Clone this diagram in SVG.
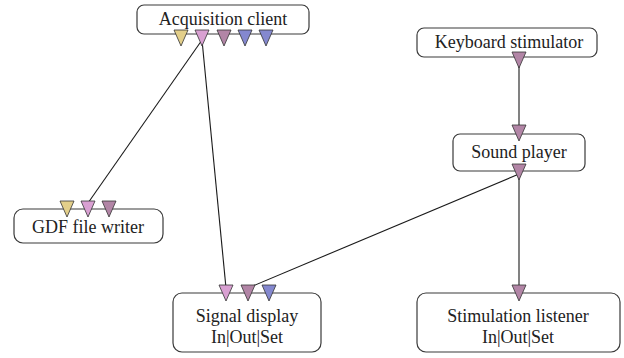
<svg xmlns="http://www.w3.org/2000/svg" width="624" height="358" viewBox="0 0 624 358">
<style>
.box{fill:#fff;stroke:#3a3a3a;stroke-width:1.2}
.lbl{font-family:'Liberation Serif','Times New Roman',serif;font-size:18px;fill:#222;text-anchor:middle}
.tri{stroke:#333;stroke-width:0.8}
.y{fill:#e3cf8a}.p{fill:#d9a0d2}.m{fill:#b285a6}.b{fill:#8488cf}
.con{stroke:#1a1a1a;stroke-width:1.1;fill:none}
</style>
<defs>
<polygon id="t" points="-7,0 7,0 0,16"/>
</defs>
<rect width="624" height="358" fill="#fff"/>
<g id="connectors">
<line class="con" x1="202" y1="40" x2="88" y2="203"/>
<line class="con" x1="202" y1="40" x2="226" y2="288"/>
<line class="con" x1="519" y1="62" x2="519" y2="128"/>
<line class="con" x1="519" y1="174" x2="248" y2="288"/>
<line class="con" x1="519" y1="174" x2="519" y2="288"/>
</g>
<g id="acquisition-client">
<rect class="box" x="137" y="5" width="172" height="29" rx="7"/>
<text class="lbl" x="223" y="25">Acquisition client</text>
<use href="#t" class="tri y" x="181" y="30"/>
<use href="#t" class="tri p" x="202" y="30"/>
<use href="#t" class="tri m" x="224" y="30"/>
<use href="#t" class="tri b" x="245" y="30"/>
<use href="#t" class="tri b" x="266" y="30"/>
</g>
<g id="keyboard-stimulator">
<rect class="box" x="417" y="28" width="180" height="29" rx="7"/>
<text class="lbl" x="509" y="48">Keyboard stimulator</text>
<use href="#t" class="tri m" x="519" y="52"/>
</g>
<g id="sound-player">
<rect class="box" x="453" y="134" width="132" height="37" rx="7"/>
<text class="lbl" x="519" y="158">Sound player</text>
<use href="#t" class="tri m" x="519" y="125"/>
<use href="#t" class="tri m" x="519" y="164"/>
</g>
<g id="gdf-file-writer">
<rect class="box" x="14" y="209" width="149" height="34" rx="9"/>
<text class="lbl" x="88" y="233">GDF file writer</text>
<use href="#t" class="tri y" x="67" y="201"/>
<use href="#t" class="tri p" x="88" y="201"/>
<use href="#t" class="tri m" x="109" y="201"/>
</g>
<g id="signal-display">
<rect class="box" x="173" y="293" width="148" height="59" rx="9"/>
<text class="lbl" x="247" y="322">Signal display</text>
<text class="lbl" x="247" y="343">In|Out|Set</text>
<use href="#t" class="tri p" x="226" y="285"/>
<use href="#t" class="tri m" x="248" y="285"/>
<use href="#t" class="tri b" x="269" y="285"/>
</g>
<g id="stimulation-listener">
<rect class="box" x="417" y="293" width="203" height="59" rx="9"/>
<text class="lbl" x="518" y="322">Stimulation listener</text>
<text class="lbl" x="518" y="343">In|Out|Set</text>
<use href="#t" class="tri m" x="519" y="285"/>
</g>
</svg>
